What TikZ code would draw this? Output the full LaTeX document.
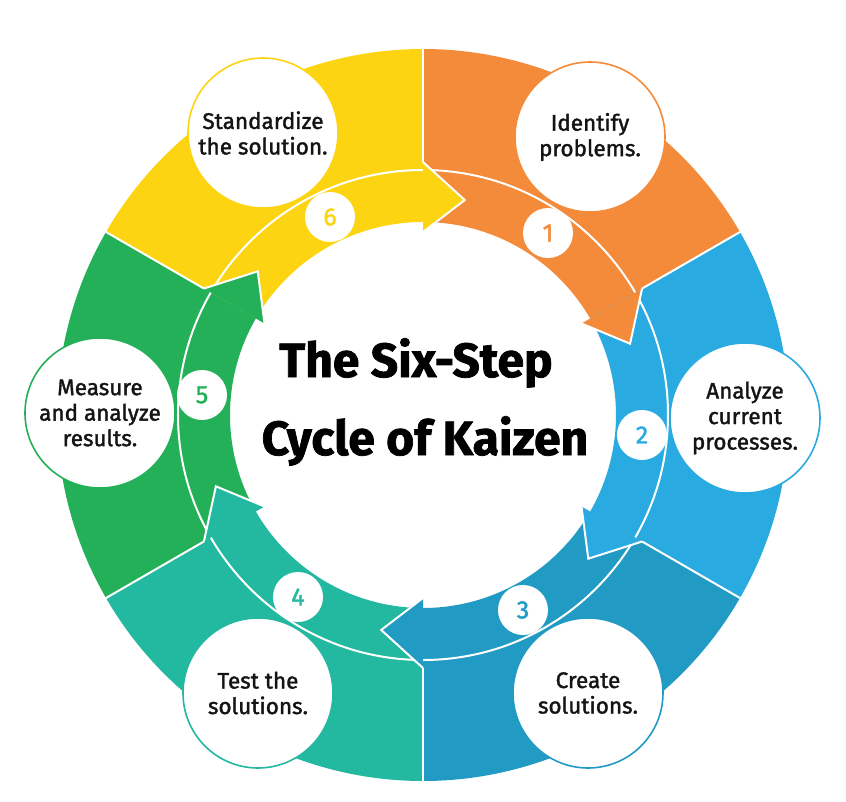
\documentclass[tikz,border=0pt]{standalone}
\usepackage{fontspec}
\setmainfont{Fira Sans}
\newfontfamily\labfont[FakeBold=1.6]{Fira Sans}
\newfontfamily\titlefont[BoldFeatures={FakeBold=1.5}]{Fira Sans}
\definecolor{cyel}{HTML}{FDD411}
\definecolor{cora}{HTML}{F48B3A}
\definecolor{cblu}{HTML}{29AAE1}
\definecolor{cdbl}{HTML}{229BC4}
\definecolor{ctea}{HTML}{23B8A0}
\definecolor{cgre}{HTML}{23B058}
\definecolor{ctxt}{HTML}{141414}
\def\rin{193}\def\rmid{245}\def\rout{366}
\def\rib{183}\def\rob{253}\def\rtip{219}
\newcommand\kzseg[3]{%
  \fill[#1] (#2:\rout) arc[start angle=#2,end angle=#3,radius=\rout] -- (#3:\rin) arc[start angle=#3,end angle=#2,radius=\rin] -- cycle;}
\newcommand\kzhead[2]{%
  \fill[#1] (#2:\rin) -- (#2:\rib) -- ({#2-11}:\rtip) -- (#2:\rob) -- (#2:\rmid) -- cycle;
  \draw[white,line width=2pt,line join=miter] (#2:\rib) -- ({#2-11}:\rtip) -- (#2:\rob);}
\newcommand\kzsep[1]{\draw[white,line width=2pt] (#1:\rob) -- (#1:370);}
\tikzset{
  textcirc/.style={circle,fill=white,draw=#1,line width=1.6pt,minimum size=150pt,inner sep=0pt,align=center,text=ctxt,font=\labfont\fontsize{22.5}{25.5}\selectfont},
  numcirc/.style={circle,fill=white,minimum size=50pt,inner sep=0pt,text=#1,font=\labfont\fontsize{25}{25}\selectfont},
  titletext/.style={anchor=base,text=black,font=\titlefont\bfseries\fontsize{48}{48}\selectfont}
}
\begin{document}
\begin{tikzpicture}[x=1pt,y=1pt]
\useasboundingbox (-423,-386) rectangle (423,415);
\fill[white] (-423,-386) rectangle (423,415);
% segments
\kzseg{cyel}{150}{90}
\kzseg{cora}{90}{30}
\kzseg{cblu}{30}{-30}
\kzseg{cdbl}{-30}{-90}
\kzseg{ctea}{-90}{-150}
\kzseg{cgre}{210}{150}
% separator ring
\draw[white,line width=2pt] (0,0) circle[radius=\rmid];
% radial separators
\kzsep{90}\kzsep{30}\kzsep{-30}\kzsep{-90}\kzsep{-150}\kzsep{150}
% arrowheads
\kzhead{cyel}{90}
\kzhead{cora}{30}
\kzhead{cblu}{-30}
\kzhead{cdbl}{-90}
\kzhead{ctea}{-150}
\kzhead{cgre}{150}
% number circles
\node[numcirc=cora] (n1) at (125,182) {1};
\node[numcirc=cblu] (n2) at (219,-20) {2};
\node[numcirc=cdbl] (n3) at (100,-195) {3};
\node[numcirc=ctea] (n4) at (-125,-182) {4};
\node[numcirc=cgre] (n5) at (-221,20) {5};
\node[numcirc=cyel] (n6) at (-93,198) {6};
% text circles
\node[textcirc=cora] (t1) at (167,278) {Identify\\problems.};
\node[textcirc=cblu] (t2) at (322,-3) {Analyze\\current\\processes.};
\node[textcirc=cdbl] (t3) at (165,-278) {Create\\solutions.};
\node[textcirc=ctea] (t4) at (-165,-278) {Test the\\solutions.};
\node[textcirc=cgre] (t5) at (-323,2) {Measure\\and analyze\\results.};
\node[textcirc=cyel] (t6) at (-160,282) {Standardize\\the solution.};
% title
\node[titletext] (ttl1) at (-7,38) {The Six-Step};
\node[titletext] (ttl2) at (2,-40) {Cycle of Kaizen};
\end{tikzpicture}
\end{document}
